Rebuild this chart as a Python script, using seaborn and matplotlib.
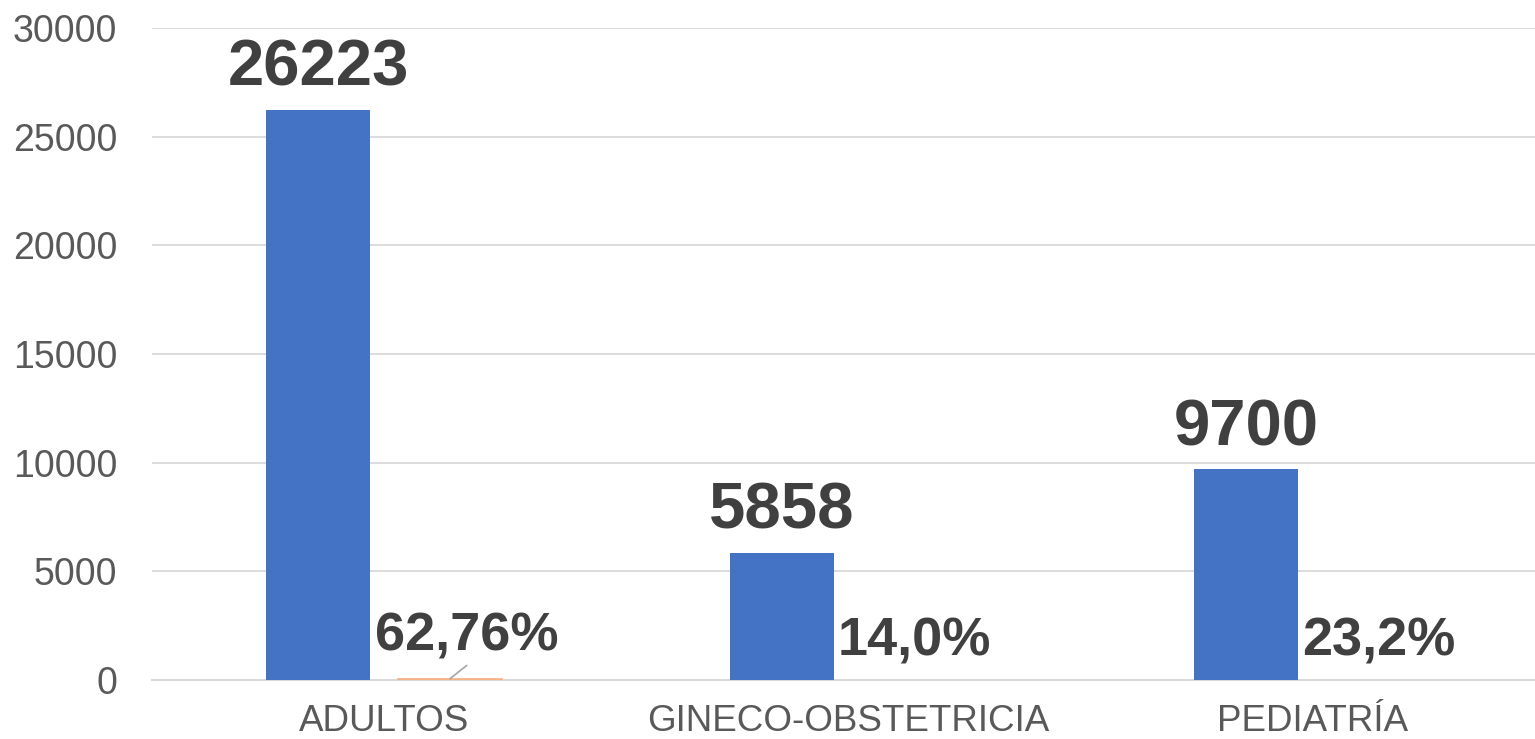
import pandas as pd
import matplotlib.pyplot as plt
import seaborn as sns

# Datos
categorias = ["ADULTOS", "GINECO-OBSTETRICIA", "PEDIATRÍA"]
atenciones = [26223, 5858, 9700]
porcentajes = [62.76, 0.140, 0.232]
etiquetas_pct = ["62,76%", "14,0%", "23,2%"]
y_ticks = [0, 5000, 10000, 15000, 20000, 25000, 30000]

AZUL = "#4472C4"
NARANJA = "#F4B183"
GRIS_TEXTO = "#595959"
GRIS_ETIQ = "#404040"
GRIS_GRID = "#D9D9D9"

sns.set_style("white")
plt.rcParams["font.family"] = ["Liberation Sans", "DejaVu Sans"]

df = pd.DataFrame({
    "categoria": categorias * 2,
    "serie": ["Atenciones"] * 3 + ["Porcentaje"] * 3,
    "valor": atenciones + porcentajes,
})

fig = plt.figure(figsize=(15.35, 7.39), dpi=100)
ax = fig.add_axes([152 / 1535, 59 / 739, 1383 / 1535, 652 / 739])

sns.barplot(
    data=df, x="categoria", y="valor", hue="serie",
    palette=[AZUL, NARANJA], saturation=1, width=0.569, gap=0.213,
    legend=False, ax=ax, zorder=3, linewidth=0,
)

ax.set_ylim(0, 30000)
ax.set_xlim(-0.5, 2.48)
ax.set_yticks(y_ticks)
ax.set_yticklabels([str(t) for t in y_ticks])
ax.set_xlabel("")
ax.set_ylabel("")

ax.grid(axis="y", color=GRIS_GRID, linewidth=1.3, zorder=0)
ax.grid(axis="x", visible=False)
for lado in ["left", "right", "top"]:
    ax.spines[lado].set_visible(False)
ax.spines["bottom"].set_color(GRIS_GRID)
ax.spines["bottom"].set_linewidth(1.5)
ax.spines["bottom"].set_zorder(2)

ax.tick_params(axis="y", length=0, pad=25, labelsize=27, labelcolor=GRIS_TEXTO)
ax.tick_params(axis="x", length=0, pad=17, labelsize=26.5, labelcolor=GRIS_TEXTO)

# Etiquetas de datos
barras_azul = ax.containers[0]
barras_nar = ax.containers[1]

# la serie de porcentaje es casi plana: darle un borde para que se vea
for barra in barras_nar:
    if barra.get_height() > 1:
        barra.set_edgecolor(NARANJA)
        barra.set_linewidth(1.2)

for barra, valor in zip(barras_azul, atenciones):
    ax.annotate(
        str(valor), (barra.get_x() + barra.get_width() / 2, barra.get_height()),
        xytext=(0, 8), textcoords="offset points", ha="center", va="bottom",
        fontsize=47, fontweight="bold", color=GRIS_ETIQ,
    )

for i, (barra, texto) in enumerate(zip(barras_nar, etiquetas_pct)):
    cx = barra.get_x() + barra.get_width() / 2
    if i == 0:
        # etiqueta desplazada con línea guía
        ax.annotate(
            texto, (cx, barra.get_height()),
            xytext=(12, 12.5), textcoords="offset points", ha="center", va="bottom",
            fontsize=39, fontweight="bold", color=GRIS_ETIQ,
        )
        ax.annotate(
            "", (cx, barra.get_height()), xytext=(12, 9.5), textcoords="offset points",
            arrowprops=dict(arrowstyle="-", color="#A6A6A6", lw=1.2,
                            shrinkA=0, shrinkB=0),
        )
    else:
        ax.annotate(
            texto, (cx, barra.get_height()),
            xytext=(0, 10), textcoords="offset points", ha="center", va="bottom",
            fontsize=39, fontweight="bold", color=GRIS_ETIQ,
        )

fig.savefig("out.png", dpi=100, facecolor="white")
plt.close(fig)
